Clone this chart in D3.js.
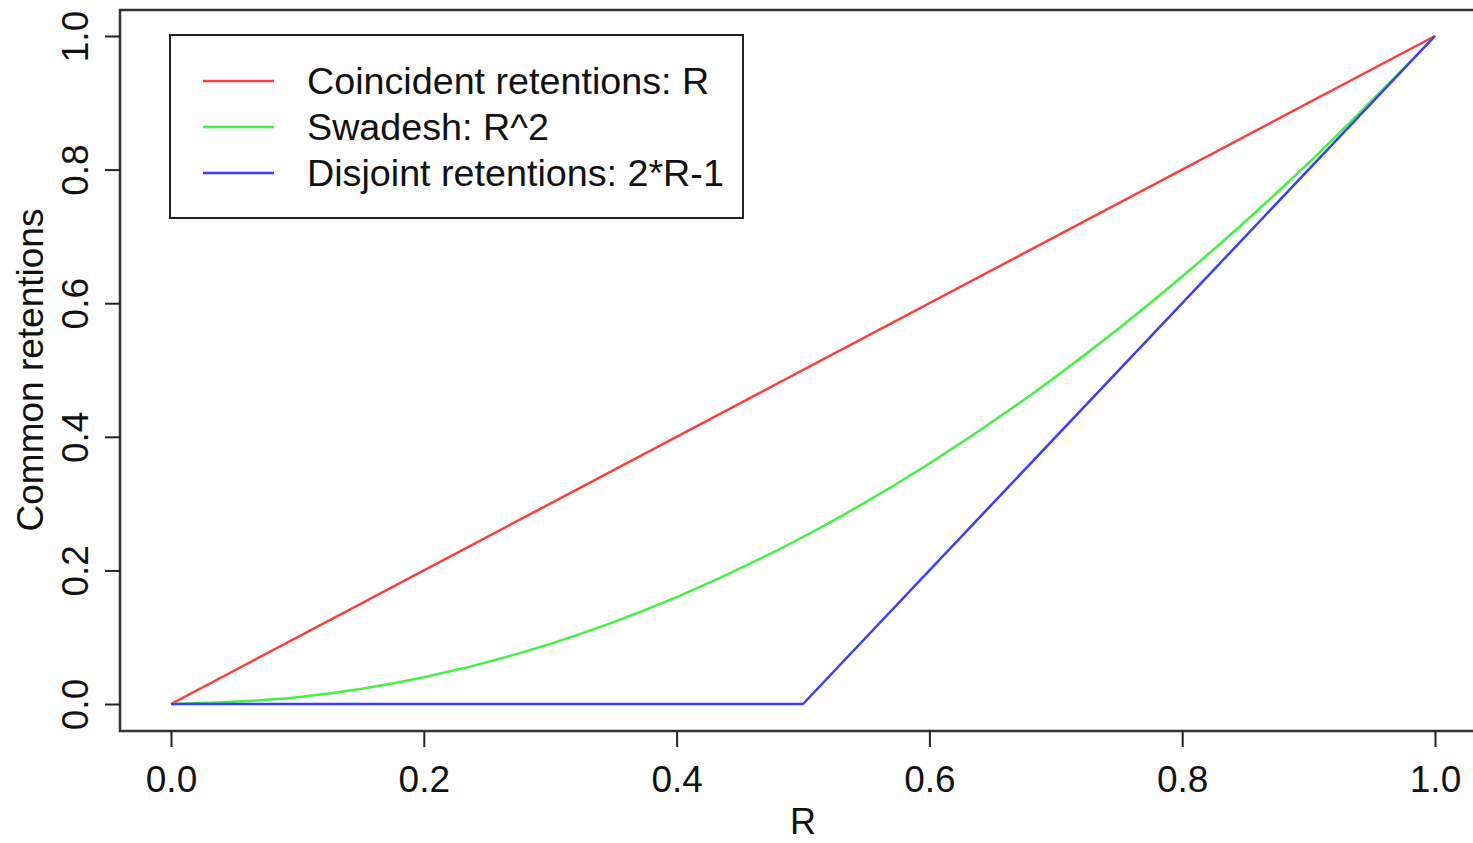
<!DOCTYPE html>
<html>
<head>
<meta charset="utf-8">
<script src="https://cdn.jsdelivr.net/npm/d3@7"></script>
<style>
  html, body { margin: 0; padding: 0; background: #fff; }
  svg { display: block; font-family: "Liberation Sans", Arial, sans-serif; }
</style>
</head>
<body>
<svg id="chart" width="1473" height="843"></svg>
<script>
// Data
const xTicks = [0, 0.2, 0.4, 0.6, 0.8, 1.0];
const yTicks = [0, 0.2, 0.4, 0.6, 0.8, 1.0];

const coincidentR = [0, 1];
const coincidentY = [0, 1];

const swadeshR = [0, 0.1, 0.2, 0.3, 0.4, 0.5, 0.6, 0.7, 0.8, 0.9, 1.0];
const swadeshY = [0, 0.01, 0.04, 0.09, 0.16, 0.25, 0.36, 0.49, 0.64, 0.81, 1.0];

const disjointR = [0, 0.5, 1];
const disjointY = [0, 0, 1];

const seriesNames = ["Coincident retentions: R", "Swadesh: R^2", "Disjoint retentions: 2*R-1"];
const seriesColors = ["#ff3c3c", "#44f044", "#3c3cff"];

// Layout
const svg = d3.select("#chart");
const box = { left: 120, top: 10, right: 1490, bottom: 731 };
const fontSize = 37;

const x = d3.scaleLinear().domain([0, 1]).range([171, 1435]);
const y = d3.scaleLinear().domain([0, 1]).range([704, 36]);

// Series lines
const series = [
    { xs: coincidentR, ys: coincidentY, curve: d3.curveLinear },
    { xs: swadeshR, ys: swadeshY, curve: d3.curveMonotoneX },
    { xs: disjointR, ys: disjointY, curve: d3.curveLinear }
];

series.forEach((s, i) => {
    const pts = s.xs.map((v, k) => [v, s.ys[k]]);
    const line = d3.line()
        .x(d => x(d[0]))
        .y(d => y(d[1]))
        .curve(s.curve);
    svg.append("path")
        .attr("d", line(pts))
        .attr("fill", "none")
        .attr("stroke", seriesColors[i])
        .attr("stroke-width", 2.5)
        .attr("stroke-linejoin", "round");
});

// Plot box
svg.append("rect")
    .attr("x", box.left)
    .attr("y", box.top)
    .attr("width", box.right - box.left)
    .attr("height", box.bottom - box.top)
    .attr("fill", "none")
    .attr("stroke", "#333")
    .attr("stroke-width", 2.5);

// X axis
const xAxis = d3.axisBottom(x)
    .tickValues(xTicks)
    .tickSize(16)
    .tickPadding(19)
    .tickFormat(d3.format(".1f"));

const gx = svg.append("g")
    .attr("transform", "translate(0," + box.bottom + ")")
    .call(xAxis);
gx.select(".domain").remove();
gx.selectAll(".tick line").attr("stroke", "#222").attr("stroke-width", 2);
gx.selectAll(".tick text")
    .attr("fill", "#111")
    .style("font-size", fontSize + "px")
    .style("font-family", "Liberation Sans, Arial, sans-serif");

// Y axis, labels rotated like R's default
const yAxis = d3.axisLeft(y)
    .tickValues(yTicks)
    .tickSize(15)
    .tickFormat(d3.format(".1f"));

const gy = svg.append("g")
    .attr("transform", "translate(" + box.left + ",0)")
    .call(yAxis);
gy.select(".domain").remove();
gy.selectAll(".tick line").attr("stroke", "#222").attr("stroke-width", 2);
gy.selectAll(".tick text")
    .attr("x", null)
    .attr("dy", null)
    .attr("fill", "#111")
    .attr("text-anchor", "middle")
    .attr("transform", "translate(-32,0) rotate(-90)")
    .style("font-size", fontSize + "px")
    .style("font-family", "Liberation Sans, Arial, sans-serif");

// Axis titles
svg.append("text")
    .attr("x", (x(0) + x(1)) / 2)
    .attr("y", 834)
    .attr("text-anchor", "middle")
    .attr("fill", "#111")
    .style("font-size", "36px")
    .text("R");

svg.append("text")
    .attr("transform", "translate(43," + (y(0) + y(1)) / 2 + ") rotate(-90)")
    .attr("text-anchor", "middle")
    .attr("fill", "#111")
    .style("font-size", fontSize + "px")
    .text("Common retentions");

// Legend
const legend = svg.append("g");
legend.append("rect")
    .attr("x", 170)
    .attr("y", 35)
    .attr("width", 573)
    .attr("height", 183)
    .attr("fill", "#fff")
    .attr("stroke", "#222")
    .attr("stroke-width", 2);

const legendRows = [81, 127, 173];
seriesNames.forEach((name, i) => {
    legend.append("line")
        .attr("x1", 203)
        .attr("x2", 274)
        .attr("y1", legendRows[i])
        .attr("y2", legendRows[i])
        .attr("stroke", seriesColors[i])
        .attr("stroke-width", 2.5);
    legend.append("text")
        .attr("x", 307)
        .attr("y", legendRows[i])
        .attr("dy", "0.35em")
        .attr("fill", "#111")
        .style("font-size", "37.7px")
        .text(name);
});
</script>
</body>
</html>
